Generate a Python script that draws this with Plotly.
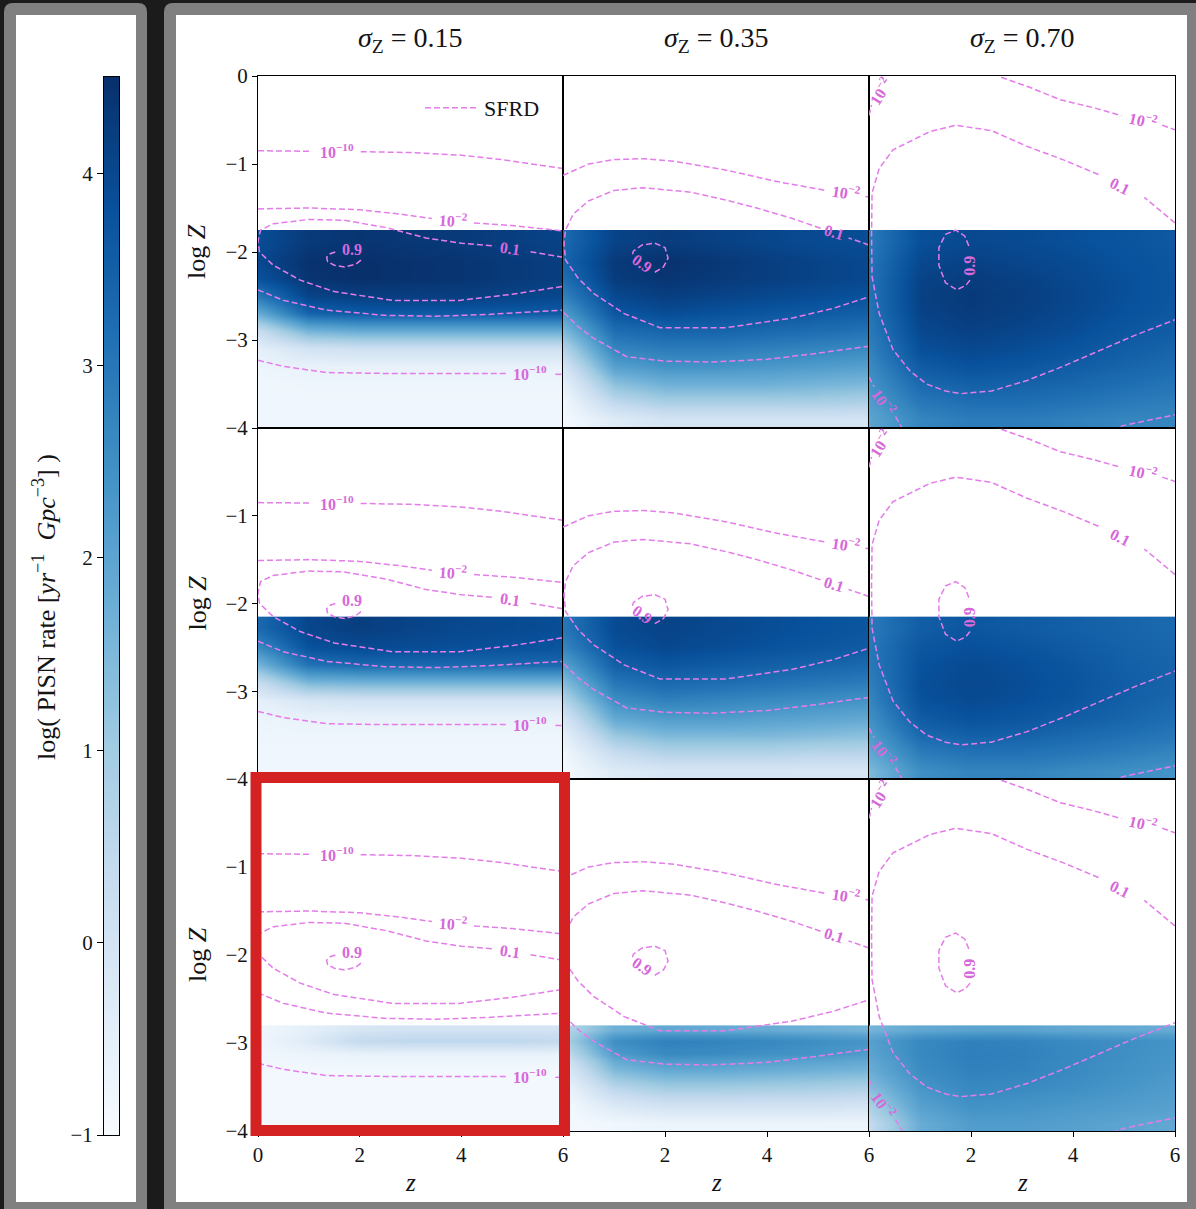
import plotly.graph_objects as go
import plotly.colors as pc

W, H = 1196, 1209

# ---------------- DATA ----------------
SIGMA_LABELS = ["0.15", "0.35", "0.70"]
Z_CENTERS = [0, 1, 2, 3, 4, 5, 6]
X_EDGES = [-0.5, 0.5, 1.5, 2.5, 3.5, 4.5, 5.5, 6.5]

# logZ cell edges (bottom -> top) for each row of panels
ROW1_EDGES = [-4.0, -3.8, -3.6, -3.4, -3.2, -3.0, -2.8, -2.6, -2.4, -2.2, -2.0, -1.75]
ROW2_EDGES = [-4.0, -3.8, -3.6, -3.4, -3.2, -3.0, -2.8, -2.6, -2.4, -2.15]
ROW3_EDGES = [-4.0, -3.8, -3.6, -3.4, -3.2, -3.05, -2.9, -2.8]

# log PISN rate, rows bottom -> top, columns z = 0..6
R1C1 = [
    [-0.8, -0.8, -0.8, -0.8, -0.8, -0.8, -0.8],
    [-0.8, -0.8, -0.8, -0.8, -0.8, -0.8, -0.8],
    [-0.8, -0.75, -0.75, -0.75, -0.75, -0.75, -0.75],
    [-0.7, -0.6, -0.6, -0.6, -0.6, -0.6, -0.6],
    [-0.5, 0.0, 0.1, 0.1, 0.1, 0.1, 0.1],
    [0.3, 1.6, 1.8, 1.8, 1.8, 1.8, 1.8],
    [1.8, 3.4, 3.6, 3.6, 3.6, 3.6, 3.6],
    [3.0, 4.1, 4.2, 4.2, 4.2, 4.1, 4.0],
    [3.8, 4.4, 4.5, 4.45, 4.4, 4.3, 4.2],
    [4.0, 4.45, 4.5, 4.45, 4.4, 4.3, 4.2],
    [3.9, 4.3, 4.4, 4.35, 4.3, 4.2, 4.1],
]
R1C2 = [
    [-0.9, -0.3, 0.0, 0.0, 0.0, 0.0, 0.0],
    [-0.8, 0.5, 0.9, 0.9, 0.9, 0.9, 0.8],
    [-0.5, 1.3, 1.7, 1.7, 1.7, 1.6, 1.5],
    [0.0, 2.1, 2.4, 2.4, 2.3, 2.2, 2.1],
    [0.7, 2.7, 2.9, 2.9, 2.8, 2.7, 2.6],
    [1.5, 3.2, 3.4, 3.4, 3.3, 3.2, 3.1],
    [2.2, 3.7, 3.9, 3.8, 3.7, 3.6, 3.5],
    [2.8, 4.0, 4.2, 4.1, 4.0, 3.9, 3.8],
    [3.2, 4.25, 4.4, 4.3, 4.2, 4.1, 4.0],
    [3.4, 4.3, 4.45, 4.35, 4.2, 4.1, 4.0],
    [3.3, 4.1, 4.25, 4.15, 4.05, 3.95, 3.9],
]
R1C3 = [
    [2.0, 2.7, 2.9, 2.9, 2.8, 2.7, 2.7],
    [2.2, 3.0, 3.2, 3.2, 3.1, 2.95, 2.85],
    [2.4, 3.3, 3.5, 3.45, 3.35, 3.2, 3.05],
    [2.6, 3.6, 3.8, 3.7, 3.55, 3.4, 3.25],
    [2.8, 3.85, 4.0, 3.9, 3.75, 3.55, 3.4],
    [2.95, 4.0, 4.15, 4.05, 3.9, 3.7, 3.55],
    [3.05, 4.1, 4.25, 4.15, 4.0, 3.8, 3.65],
    [3.1, 4.15, 4.3, 4.2, 4.05, 3.85, 3.7],
    [3.1, 4.1, 4.25, 4.15, 4.0, 3.85, 3.7],
    [3.05, 4.0, 4.15, 4.05, 3.95, 3.8, 3.7],
    [2.95, 3.85, 4.0, 3.95, 3.85, 3.75, 3.65],
]
R2C1 = [
    [-0.8, -0.8, -0.8, -0.8, -0.8, -0.8, -0.8],
    [-0.8, -0.8, -0.8, -0.8, -0.8, -0.8, -0.8],
    [-0.75, -0.75, -0.75, -0.75, -0.75, -0.75, -0.75],
    [-0.7, -0.6, -0.6, -0.6, -0.6, -0.6, -0.6],
    [-0.5, -0.1, 0.0, 0.0, 0.0, 0.0, 0.0],
    [0.3, 1.5, 1.6, 1.6, 1.6, 1.6, 1.6],
    [1.6, 3.1, 3.3, 3.3, 3.3, 3.3, 3.3],
    [2.6, 3.8, 3.95, 3.9, 3.85, 3.8, 3.75],
    [3.3, 4.05, 4.2, 4.1, 4.0, 3.95, 3.9],
]
R2C2 = [
    [-0.9, -0.3, -0.1, -0.1, -0.1, -0.1, -0.1],
    [-0.8, 0.3, 0.7, 0.7, 0.7, 0.6, 0.6],
    [-0.5, 1.1, 1.5, 1.5, 1.5, 1.4, 1.3],
    [0.0, 1.9, 2.2, 2.2, 2.1, 2.0, 1.9],
    [0.7, 2.5, 2.8, 2.7, 2.6, 2.5, 2.4],
    [1.4, 3.0, 3.3, 3.2, 3.1, 3.0, 2.9],
    [2.1, 3.5, 3.7, 3.6, 3.5, 3.4, 3.3],
    [2.7, 3.8, 4.0, 3.9, 3.8, 3.7, 3.6],
    [3.0, 3.95, 4.1, 4.0, 3.9, 3.8, 3.7],
]
R2C3 = [
    [1.5, 2.5, 2.75, 2.75, 2.6, 2.5, 2.4],
    [1.9, 2.9, 3.1, 3.1, 3.0, 2.85, 2.7],
    [2.2, 3.3, 3.5, 3.45, 3.3, 3.15, 3.0],
    [2.5, 3.6, 3.8, 3.7, 3.55, 3.4, 3.2],
    [2.7, 3.8, 3.95, 3.85, 3.7, 3.5, 3.35],
    [2.85, 3.85, 4.0, 3.9, 3.75, 3.55, 3.4],
    [2.95, 3.8, 3.95, 3.85, 3.7, 3.5, 3.4],
    [3.0, 3.7, 3.85, 3.75, 3.6, 3.45, 3.35],
    [2.95, 3.55, 3.7, 3.6, 3.5, 3.4, 3.3],
]
R3C1 = [
    [-0.85, -0.85, -0.85, -0.85, -0.85, -0.85, -0.85],
    [-0.85, -0.85, -0.85, -0.85, -0.85, -0.85, -0.85],
    [-0.85, -0.85, -0.85, -0.85, -0.85, -0.85, -0.85],
    [-0.85, -0.85, -0.85, -0.85, -0.85, -0.85, -0.85],
    [-0.8, -0.7, -0.6, -0.6, -0.6, -0.6, -0.6],
    [-0.8, -0.3, 0.4, 0.5, 0.5, 0.5, 0.4],
    [-0.8, -0.5, -0.1, 0.0, 0.0, 0.0, 0.0],
]
R3C2 = [
    [-0.9, -0.8, -0.7, -0.7, -0.7, -0.7, -0.7],
    [-0.9, -0.2, 0.1, 0.1, 0.1, 0.1, 0.0],
    [-0.7, 0.6, 1.0, 1.0, 0.95, 0.9, 0.8],
    [-0.3, 1.5, 1.9, 1.9, 1.8, 1.7, 1.6],
    [0.3, 2.2, 2.6, 2.55, 2.45, 2.35, 2.2],
    [0.8, 2.5, 2.8, 2.75, 2.65, 2.5, 2.35],
    [0.6, 1.7, 1.9, 1.85, 1.8, 1.7, 1.6],
]
R3C3 = [
    [0.4, 1.8, 2.2, 2.2, 2.1, 2.0, 1.9],
    [0.9, 2.1, 2.45, 2.4, 2.3, 2.2, 2.1],
    [1.4, 2.35, 2.65, 2.6, 2.5, 2.35, 2.2],
    [1.8, 2.55, 2.8, 2.75, 2.6, 2.45, 2.3],
    [2.0, 2.65, 2.85, 2.8, 2.65, 2.5, 2.35],
    [2.1, 2.65, 2.8, 2.75, 2.6, 2.5, 2.4],
    [1.6, 1.9, 2.0, 2.0, 1.9, 1.85, 1.8],
]

# SFRD contour lines (z, logZ); None = break (label position)
S015_E10_UP = [(0.0, -0.85), (0.5, -0.85), (1.05, -0.855), None, (2.02, -0.86), (3.0, -0.87),
               (4.0, -0.9), (4.8, -0.95), (5.5, -1.01), (6.0, -1.05)]
S015_E2_UP = [(0.0, -1.51), (1.0, -1.5), (2.0, -1.52), (2.8, -1.57), (3.42, -1.62), None,
              (4.25, -1.67), (5.0, -1.7), (6.0, -1.76)]
S015_P1 = [(6.0, -2.06), (5.3, -1.99), None, (4.6, -1.93), (4.0, -1.9), (3.3, -1.84),
           (2.5, -1.72), (1.7, -1.64), (1.0, -1.63), (0.3, -1.68), (0.05, -1.75), (0.0, -1.88),
           (0.03, -2.0), (0.3, -2.15), (0.83, -2.32), (1.5, -2.45), (2.65, -2.55), (3.96, -2.55),
           (5.0, -2.48), (6.0, -2.39)]
S015_E2_LO = [(0.0, -2.43), (0.5, -2.55), (1.35, -2.66), (2.5, -2.72), (3.5, -2.73),
              (4.5, -2.71), (6.0, -2.66)]
S015_E10_LO = [(0.0, -3.23), (0.5, -3.3), (1.35, -3.37), (2.5, -3.38), (4.9, -3.38), None,
               (5.85, -3.39), (6.0, -3.39)]
S015_P9 = [(1.52, -2.0), (1.42, -2.02), (1.35, -2.06), (1.37, -2.11), (1.5, -2.15), (1.7, -2.17),
           (1.92, -2.14), (2.03, -2.09), (2.04, -2.06)]

S035_E2 = [(0.0, -1.13), (0.5, -1.0), (1.0, -0.95), (1.57, -0.94), (2.2, -0.97), (3.2, -1.07),
           (4.2, -1.2), (5.15, -1.3), None, (5.93, -1.37), (6.0, -1.375)]
S035_E2_LO = [(0.02, -2.69), (0.3, -2.85), (0.6, -2.98), (1.25, -3.19), (2.0, -3.24),
              (2.9, -3.25), (4.0, -3.22), (5.0, -3.15), (6.0, -3.07)]
S035_P1 = [(6.0, -1.92), (5.6, -1.84), None, (5.05, -1.73), (4.5, -1.62), (3.8, -1.5),
           (3.2, -1.41), (2.5, -1.32), (1.57, -1.27), (1.0, -1.3), (0.5, -1.42), (0.2, -1.57),
           (0.05, -1.75), (0.02, -1.9), (0.05, -2.09), (0.3, -2.3), (0.6, -2.47), (1.2, -2.7),
           (1.9, -2.86), (3.2, -2.86), (4.5, -2.75), (5.3, -2.64), (6.0, -2.51)]
S035_P9 = [(1.8, -2.23), (1.97, -2.17), (2.06, -2.07), (2.0, -1.95), (1.8, -1.9), (1.55, -1.92),
           (1.38, -1.99), (1.35, -2.05)]

S070_E2_TL = [(0.0, -0.45), (0.05, -0.33), None, (0.45, 0.02), (0.6, 0.15)]
S070_E2_TR = [(2.3, 0.1), (2.57, -0.01), (3.2, -0.14), (3.75, -0.27), (4.4, -0.36),
              (4.95, -0.45), None, (5.75, -0.56), (6.0, -0.61)]
S070_E2_BL = [(0.0, -3.42), (0.1, -3.53), None, (0.52, -3.87), (0.65, -4.0), (0.75, -4.1)]
S070_E2_BR = [(4.6, -4.05), (5.0, -3.97), (5.5, -3.91), (6.0, -3.85)]
S070_P1 = [(6.0, -1.67), (5.4, -1.38), None, (4.5, -1.12), (3.8, -0.95), (3.1, -0.8),
           (2.4, -0.62), (1.7, -0.56), (1.2, -0.63), (0.47, -0.84), (0.2, -1.05), (0.06, -1.33),
           (0.05, -1.8), (0.06, -2.28), (0.2, -2.7), (0.47, -3.11), (0.8, -3.35), (1.13, -3.5),
           (1.5, -3.58), (1.8, -3.61), (2.4, -3.58), (3.1, -3.46), (3.8, -3.3), (4.4, -3.15),
           (5.2, -2.95), (6.0, -2.77)]
S070_P9 = [(1.98, -2.32), (1.9, -2.38), (1.72, -2.43), (1.5, -2.35), (1.37, -2.15),
           (1.37, -1.95), (1.5, -1.8), (1.7, -1.75), (1.88, -1.82), (1.97, -1.95)]

# contour labels: (text, z, logZ, angle)
S015_LABELS = [("10<sup>−10</sup>", 1.55, -0.855, 0), ("10<sup>−2</sup>", 3.83, -1.64, 4),
               ("0.1", 4.95, -1.96, 8), ("0.9", 1.84, -1.97, 0), ("10<sup>−10</sup>", 5.36, -3.37, 0)]
S035_LABELS = [("10<sup>−2</sup>", 5.55, -1.32, 9), ("0.1", 5.32, -1.78, 17), ("0.9", 1.55, -2.13, 35)]
S070_LABELS = [("10<sup>−2</sup>", 5.38, -0.5, 13), ("0.1", 4.93, -1.25, 27), ("0.9", 1.97, -2.15, -90),
               ("10<sup>−2</sup>", 0.22, -0.17, -58), ("10<sup>−2</sup>", 0.3, -3.7, 55)]

CBAR_RANGE = [-1, 4.5]
CBAR_TICKS = [-1, 0, 1, 2, 3, 4]
Z_RANGE = [0, 6]
LOGZ_RANGE = [-4, 0]

# ---------------- FIGURE ----------------
BLUES = pc.sequential.Blues
SERIF = "Liberation Serif, Times New Roman, serif"
LINE_COL = "rgb(228,124,234)"
LABEL_COL = "rgb(214,104,218)"
TXT = "#141414"

def px(x):
    return x / W

def py(y):
    return 1 - y / H

COL_PX = [(258, 563), (563, 869), (869, 1175)]
ROW_PX = [(76, 428), (428, 779), (779, 1131)]

HEAT = [[R1C1, R1C2, R1C3], [R2C1, R2C2, R2C3], [R3C1, R3C2, R3C3]]
EDGES = [ROW1_EDGES, ROW2_EDGES, ROW3_EDGES]
LINES = [
    [S015_E10_UP, S015_E2_UP, S015_P1, S015_E2_LO, S015_E10_LO, S015_P9],
    [S035_E2, S035_E2_LO, S035_P1, S035_P9],
    [S070_E2_TL, S070_E2_TR, S070_E2_BL, S070_E2_BR, S070_P1, S070_P9],
]
LABELS = [S015_LABELS, S035_LABELS, S070_LABELS]

fig = go.Figure()
layout = dict(
    template="none",
    width=W, height=H, autosize=False,
    margin=dict(l=0, r=0, t=0, b=0, pad=0, autoexpand=False),
    paper_bgcolor="#1b1b1b", plot_bgcolor="white",
    font=dict(family=SERIF, color=TXT, size=21),
    showlegend=True,
)
annotations = []
shapes = []

def rounded(x0, y0, x1, y1, r):
    def P(x, y):
        return f"{px(x):.6f},{py(y):.6f}"
    return (f"M{P(x0 + r, y0)} L{P(x1 - r, y0)} Q{P(x1, y0)} {P(x1, y0 + r)} "
            f"L{P(x1, y1 - r)} Q{P(x1, y1)} {P(x1 - r, y1)} L{P(x0 + r, y1)} "
            f"Q{P(x0, y1)} {P(x0, y1 - r)} L{P(x0, y0 + r)} Q{P(x0, y0)} {P(x0 + r, y0)} Z")

# panels
shapes.append(dict(type="path", xref="paper", yref="paper", layer="below",
                   path=rounded(4, 3, 147, 1225, 9), fillcolor="#808080", line=dict(width=0)))
shapes.append(dict(type="path", xref="paper", yref="paper", layer="below",
                   path=rounded(164, 3, 1212, 1225, 9), fillcolor="#808080", line=dict(width=0)))
shapes.append(dict(type="rect", xref="paper", yref="paper", layer="below",
                   x0=px(16), x1=px(136), y0=py(1202), y1=py(15), fillcolor="white", line=dict(width=0)))
shapes.append(dict(type="rect", xref="paper", yref="paper", layer="below",
                   x0=px(176), x1=px(1187), y0=py(1202), y1=py(15), fillcolor="white", line=dict(width=0)))

legend_done = False
for r in range(3):
    for c in range(3):
        k = r * 3 + c + 1
        xs = "x" if k == 1 else f"x{k}"
        ys = "y" if k == 1 else f"y{k}"
        xk = "xaxis" if k == 1 else f"xaxis{k}"
        yk = "yaxis" if k == 1 else f"yaxis{k}"
        fig.add_trace(go.Heatmap(
            z=HEAT[r][c], x=X_EDGES, y=EDGES[r], zmin=CBAR_RANGE[0], zmax=CBAR_RANGE[1],
            colorscale=BLUES, zsmooth="best", showscale=False, hoverinfo="skip",
            xaxis=xs, yaxis=ys))
        lx, ly = [], []
        for line in LINES[c]:
            for p in line:
                if p is None:
                    lx.append(None); ly.append(None)
                else:
                    lx.append(p[0]); ly.append(p[1])
            lx.append(None); ly.append(None)
        fig.add_trace(go.Scatter(
            x=lx, y=ly, mode="lines", name="SFRD",
            line=dict(color=LINE_COL, width=1.5, dash="6px,3px"),
            showlegend=not legend_done, hoverinfo="skip", xaxis=xs, yaxis=ys))
        legend_done = True
        for (txt, zz, lz, ang) in LABELS[c]:
            annotations.append(dict(
                text=f"<b>{txt}</b>", x=zz, y=lz, xref=xs, yref=ys, showarrow=False,
                textangle=ang, font=dict(family=SERIF, size=16, color=LABEL_COL),
                xanchor="center", yanchor="middle"))
        x0, x1 = COL_PX[c]
        y0, y1 = ROW_PX[r]
        layout[xk] = dict(
            domain=[px(x0), px(x1)], range=Z_RANGE, anchor=ys, automargin=False,
            showline=True, mirror=True, linecolor="black", linewidth=1,
            showgrid=False, zeroline=False,
            ticks="outside" if r == 2 else "", ticklen=5, tickcolor="black",
            tickvals=[0, 2, 4, 6] if c == 0 else [2, 4, 6],
            showticklabels=(r == 2), tickfont=dict(family=SERIF, size=21, color=TXT))
        layout[yk] = dict(
            domain=[py(y1), py(y0)], range=LOGZ_RANGE, anchor=xs, automargin=False,
            showline=True, mirror=True, linecolor="black", linewidth=1,
            showgrid=False, zeroline=False,
            ticks="outside" if c == 0 else "", ticklen=5, tickcolor="black",
            tickvals=[-4, -3, -2, -1, 0] if r == 0 else [-4, -3, -2, -1],
            showticklabels=(c == 0), tickfont=dict(family=SERIF, size=21, color=TXT))

# colorbar as its own subplot
fig.add_trace(go.Heatmap(
    z=[[CBAR_RANGE[0], CBAR_RANGE[0]], [CBAR_RANGE[1], CBAR_RANGE[1]]], x=[0, 1], y=CBAR_RANGE,
    zmin=CBAR_RANGE[0], zmax=CBAR_RANGE[1], colorscale=BLUES, zsmooth="best",
    showscale=False, hoverinfo="skip", xaxis="x10", yaxis="y10"))
layout["xaxis10"] = dict(domain=[px(104), px(119)], range=[0, 1], anchor="y10", automargin=False,
                         showline=True, mirror=True, linecolor="black", linewidth=1,
                         showgrid=False, zeroline=False, ticks="", showticklabels=False)
layout["yaxis10"] = dict(domain=[py(1135), py(77)], range=CBAR_RANGE, anchor="x10", automargin=False,
                         showline=True, mirror=True, linecolor="black", linewidth=1,
                         showgrid=False, zeroline=False, ticks="outside", ticklen=6,
                         tickcolor="black", tickvals=CBAR_TICKS, side="left",
                         tickfont=dict(family=SERIF, size=21, color=TXT))

# titles
for c in range(3):
    x0, x1 = COL_PX[c]
    annotations.append(dict(text=f"<i>σ</i><sub>Z</sub> = {SIGMA_LABELS[c]}", x=px((x0 + x1) / 2),
                            y=py(40), xref="paper", yref="paper", showarrow=False,
                            font=dict(family=SERIF, size=28, color=TXT),
                            xanchor="center", yanchor="middle"))
    annotations.append(dict(text="<i>z</i>", x=px((x0 + x1) / 2), y=py(1182), xref="paper",
                            yref="paper", showarrow=False,
                            font=dict(family=SERIF, size=25, color=TXT),
                            xanchor="center", yanchor="middle"))
for r in range(3):
    y0, y1 = ROW_PX[r]
    annotations.append(dict(text="log <i>Z</i>", x=px(197), y=py((y0 + y1) / 2), xref="paper",
                            yref="paper", showarrow=False, textangle=-90,
                            font=dict(family=SERIF, size=26, color=TXT),
                            xanchor="center", yanchor="middle"))
annotations.append(dict(text="log( PISN rate [<i>yr</i><sup>−1</sup>&nbsp;&nbsp;<i>Gpc</i><sup>−3</sup>] )",
                        x=px(44), y=py(607), xref="paper", yref="paper", showarrow=False,
                        textangle=-90, font=dict(family=SERIF, size=26, color=TXT),
                        xanchor="center", yanchor="middle"))

# red highlight rectangle
shapes.append(dict(type="rect", xref="paper", yref="paper", layer="above",
                   x0=px(256), x1=px(564.5), y0=py(1130.5), y1=py(777.5),
                   line=dict(color="#d42222", width=11), fillcolor="rgba(0,0,0,0)"))

layout["annotations"] = annotations
layout["shapes"] = shapes
layout["legend"] = dict(x=px(420), y=py(87), xanchor="left", yanchor="top",
                        bgcolor="rgba(0,0,0,0)", borderwidth=0, itemwidth=54,
                        font=dict(family=SERIF, size=22, color=TXT))
fig.update_layout(**layout)
fig.write_html(
    "out.html",
    config={"displayModeBar": False},
    post_script="document.body.style.margin='0px';document.body.style.overflow='hidden';"
                "document.documentElement.style.overflow='hidden';",
)
